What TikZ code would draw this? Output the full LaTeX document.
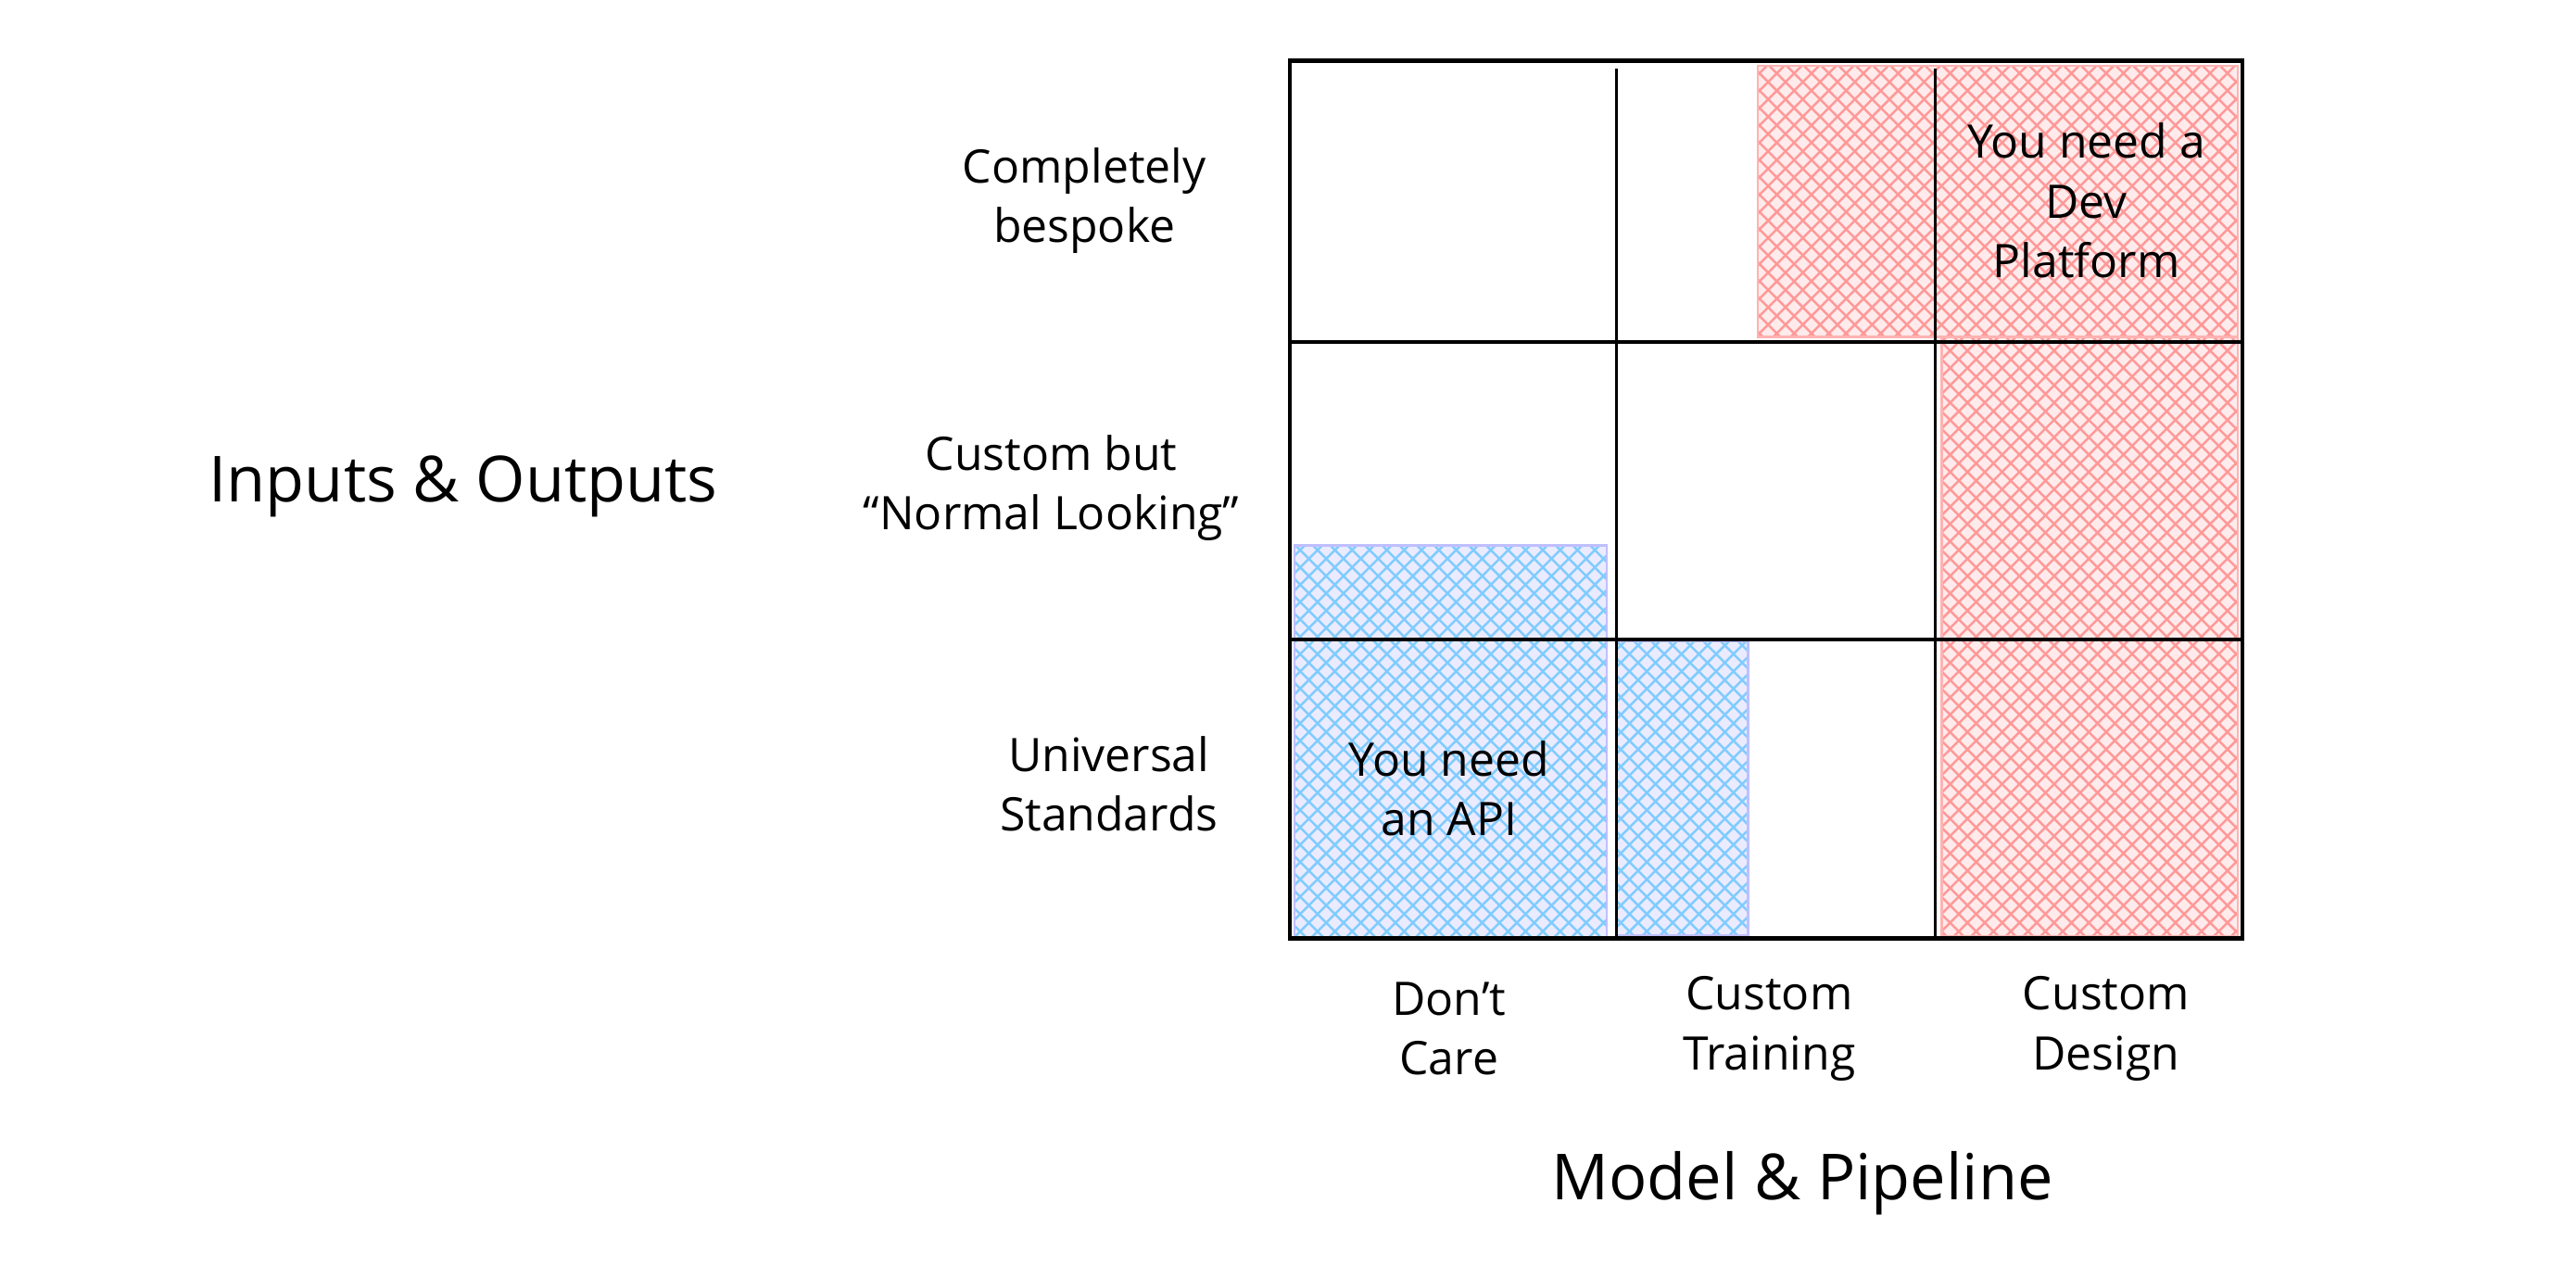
\documentclass[tikz,border=0pt]{standalone}
\usepackage{fontspec}
\setmainfont{Open Sans}
\usetikzlibrary{patterns}
\begin{document}
\begin{tikzpicture}[x=0.01cm,y=-0.01cm,
  lbl/.style={align=center,font=\fontsize{8}{10.3}\selectfont},
  big/.style={font=\fontsize{11}{13}\selectfont}]
\useasboundingbox (0,0) rectangle (1568,778);
\fill[red!8] (1070,40) rectangle (1362,205);
\fill[red!8] (1182,205) rectangle (1362,570);
\fill[blue!8] (788,332) rectangle (978,571);
\fill[blue!8] (984,390) rectangle (1064,569);
\path[pattern=crosshatch,pattern color=red!40] (1070,40) rectangle (1362,205) (1182,205) rectangle (1362,570);
\path[pattern=crosshatch,pattern color=blue!40!cyan!50] (788,332) rectangle (978,571) (984,390) rectangle (1064,569);
\draw[red!30] (1070,40) rectangle (1362,205) (1182,205) rectangle (1362,570);
\draw[blue!25] (788,332) rectangle (978,571) (984,390) rectangle (1064,569);
\draw[line width=0.7pt] (785,37) rectangle (1365,571);
\draw[line width=0.6pt] (984,42)--(984,571) (1178,42)--(1178,571)
  (785,208)--(1365,208) (785,389)--(1365,389);
\node[lbl] (r1) at (660,122) {Completely\\bespoke};
\node[lbl] (r2) at (640,297) {Custom but\\``Normal Looking''};
\node[lbl] (r3) at (675,477) {Universal\\Standards};
\node[big] (yl) at (282,296) {Inputs \& Outputs};
\node[lbl] (c1) at (882,626) {Don't\\Care};
\node[lbl] (c2) at (1077,626) {Custom\\Training};
\node[lbl] (c3) at (1282,626) {Custom\\Design};
\node[big] (xl) at (1097,720) {Model \& Pipeline};
\node[lbl] (dev) at (1270,122) {You need a\\Dev\\Platform};
\node[lbl] (api) at (882,480) {You need\\an API};
\end{tikzpicture}
\end{document}
